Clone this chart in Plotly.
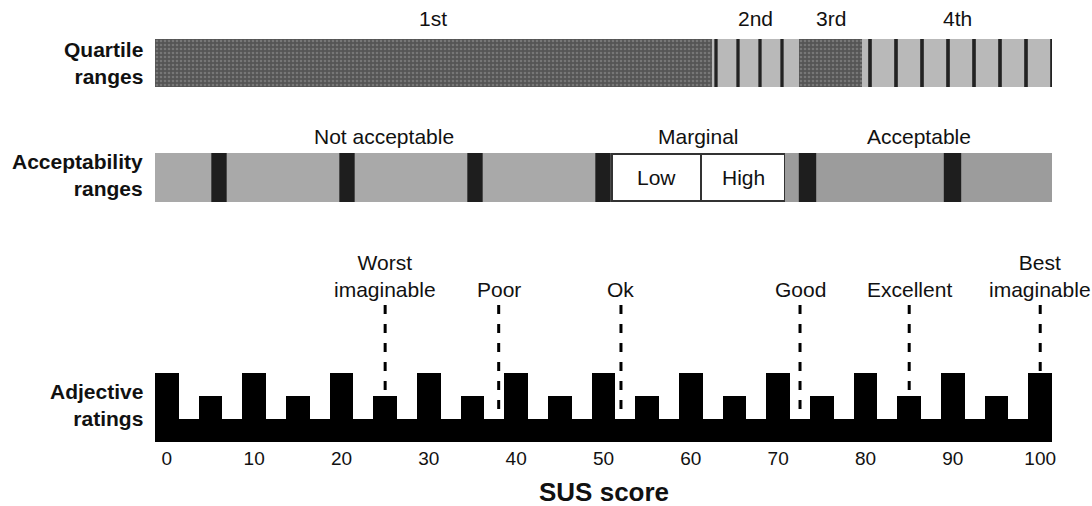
import plotly.graph_objects as go

# ---------------- data ----------------
x_ticks = [0, 10, 20, 30, 40, 50, 60, 70, 80, 90, 100]
x_title = "SUS score"

quartile_labels = ["1st", "2nd", "3rd", "4th"]
quartile_bounds = [62.4, 72.4, 79.6]          # boundaries between quartiles

accept_labels = ["Not acceptable", "Marginal", "Acceptable"]
accept_bounds = [51.0, 70.8]                   # boundaries between ranges
marginal_labels = ["Low", "High"]
marginal_split = 61.2

adjective_labels = ["Worst<br>imaginable", "Poor", "Ok", "Good", "Excellent", "Best<br>imaginable"]
adjective_scores = [25, 38, 52, 72.5, 85, 100]

scale_scores = [0, 5, 10, 15, 20, 25, 30, 35, 40, 45, 50, 55, 60, 65, 70, 75, 80, 85, 90, 95, 100]
scale_heights = [3, 2, 3, 2, 3, 2, 3, 2, 3, 2, 3, 2, 3, 2, 3, 2, 3, 2, 3, 2, 3]
base_height = 1

# ---------------- styling ----------------
FONT = "Liberation Sans, Arial, sans-serif"
BAR_W = 2.7
X_MIN = scale_scores[0] - BAR_W / 2
X_MAX = scale_scores[-1] + BAR_W / 2
DASH_TOP = 5.96

fig = go.Figure()

# ---- Row 1: quartile ranges ----
q_edges = [X_MIN] + quartile_bounds + [X_MAX]
q_styles = [
    dict(shape=".", size=4, solidity=0.35, fgcolor="#777777", bgcolor="#555555"),
    dict(shape="|", size=22, solidity=0.15, fgcolor="#222222", bgcolor="#b9b9b9"),
    dict(shape=".", size=4, solidity=0.35, fgcolor="#777777", bgcolor="#555555"),
    dict(shape="|", size=26, solidity=0.14, fgcolor="#222222", bgcolor="#b9b9b9"),
]
for i, lab in enumerate(quartile_labels):
    st = q_styles[i]
    fig.add_trace(go.Bar(
        orientation="h", y=[0.5], x=[q_edges[i + 1] - q_edges[i]], base=[q_edges[i]],
        width=1, xaxis="x", yaxis="y3",
        marker=dict(color=st["bgcolor"], line=dict(width=0),
                    pattern=dict(shape=st["shape"], size=st["size"], solidity=st["solidity"],
                                 fgcolor=st["fgcolor"], bgcolor=st["bgcolor"], fillmode="replace")),
        showlegend=False, hoverinfo="skip"))
    fig.add_annotation(x=(q_edges[i] + q_edges[i + 1]) / 2, y=1.42, xref="x", yref="y3 domain",
                       text=lab, showarrow=False, yanchor="middle",
                       font=dict(family=FONT, size=21, color="#111"))

# ---- Row 2: acceptability ranges ----
a_edges = [X_MIN] + accept_bounds + [X_MAX]
fig.add_trace(go.Bar(
    orientation="h", y=[0.5], x=[a_edges[1] - a_edges[0]], base=[a_edges[0]],
    width=1, xaxis="x", yaxis="y2",
    marker=dict(color="#a9a9a9", line=dict(width=0),
                pattern=dict(shape="|", size=128, solidity=0.12, fgcolor="#1e1e1e",
                             bgcolor="#a9a9a9", fillmode="replace")),
    showlegend=False, hoverinfo="skip"))
m_edges = [a_edges[1], marginal_split, a_edges[2]]
for i, lab in enumerate(marginal_labels):
    fig.add_trace(go.Bar(
        orientation="h", y=[0.5], x=[m_edges[i + 1] - m_edges[i]], base=[m_edges[i]],
        width=0.94, xaxis="x", yaxis="y2",
        marker=dict(color="white", line=dict(width=2, color="#333333")),
        showlegend=False, hoverinfo="skip"))
    fig.add_annotation(x=(m_edges[i] + m_edges[i + 1]) / 2, y=0.5, xref="x", yref="y2 domain",
                       text=lab, showarrow=False,
                       font=dict(family=FONT, size=21, color="#111"))
fig.add_trace(go.Bar(
    orientation="h", y=[0.5], x=[a_edges[3] - a_edges[2]], base=[a_edges[2]],
    width=1, xaxis="x", yaxis="y2",
    marker=dict(color="#9c9c9c", line=dict(width=0),
                pattern=dict(shape="|", size=145, solidity=0.12, fgcolor="#1e1e1e",
                             bgcolor="#9c9c9c", fillmode="replace")),
    showlegend=False, hoverinfo="skip"))
for i, lab in enumerate(accept_labels):
    fig.add_annotation(x=(a_edges[i] + a_edges[i + 1]) / 2, y=1.33, xref="x", yref="y2 domain",
                       text=lab, showarrow=False, yanchor="middle",
                       font=dict(family=FONT, size=21, color="#111"))

# ---- Row 3: adjective ratings ----
fig.add_trace(go.Bar(
    x=[(X_MIN + X_MAX) / 2], y=[base_height], width=[X_MAX - X_MIN],
    marker=dict(color="black", line=dict(width=0)),
    showlegend=False, hoverinfo="skip"))
fig.add_trace(go.Bar(
    x=scale_scores, y=scale_heights, width=BAR_W,
    marker=dict(color="black", line=dict(width=0)),
    showlegend=False, hoverinfo="skip"))
for s, lab in zip(adjective_scores, adjective_labels):
    fig.add_trace(go.Scatter(
        x=[s, s], y=[DASH_TOP, 0], mode="lines",
        line=dict(color="black", width=3, dash="9px,10px"),
        showlegend=False, hoverinfo="skip"))
    fig.add_annotation(x=s, y=DASH_TOP + 0.1, xref="x", yref="y", text=lab,
                       showarrow=False, yanchor="bottom",
                       font=dict(family=FONT, size=21, color="#111"))

# ---- row labels ----
row_labels = [("Quartile<br>ranges", "y3 domain", 0.5), ("Acceptability<br>ranges", "y2 domain", 0.55),
              ("Adjective<br>ratings", "y", 1.6)]
for txt, yr, yv in row_labels:
    fig.add_annotation(x=0, xref="paper", y=yv, yref=yr, text="<b>" + txt + "</b>",
                       showarrow=False, xanchor="right", align="right", xshift=-10,
                       font=dict(family=FONT, size=21, color="#111"))

H_PLOT = 432
def dom(top_px, bot_px):
    return [(442 - bot_px) / H_PLOT, (442 - top_px) / H_PLOT]

# x-axis title placed below tick labels
fig.add_annotation(x=0.5, xref="paper", y=(442 - 492) / H_PLOT, yref="paper",
                   text="<b>" + x_title + "</b>", showarrow=False, yanchor="middle",
                   font=dict(family=FONT, size=26, color="#111"))

fig.update_layout(
    width=1092, height=506,
    margin=dict(l=155, r=40, t=10, b=64, autoexpand=False),
    paper_bgcolor="white", plot_bgcolor="white",
    barmode="overlay", bargap=0,
    font=dict(family=FONT, color="#111"),
    xaxis=dict(range=[X_MIN, X_MAX], tickvals=x_ticks, showgrid=False, zeroline=False,
               showline=False, ticks="", tickfont=dict(family=FONT, size=19, color="#111"),
               ticklabelstandoff=3, anchor="y", automargin=False),
    yaxis=dict(domain=[0, (442 - 250) / H_PLOT], range=[0, 192 / 23], visible=False,
               fixedrange=True),
    yaxis2=dict(domain=dom(153, 202), range=[0, 1], visible=False, anchor="x"),
    yaxis3=dict(domain=dom(39, 87), range=[0, 1], visible=False, anchor="x"),
)

fig.write_html("out.html", config={"displayModeBar": False},
               post_script="document.body.style.margin='0px';")
